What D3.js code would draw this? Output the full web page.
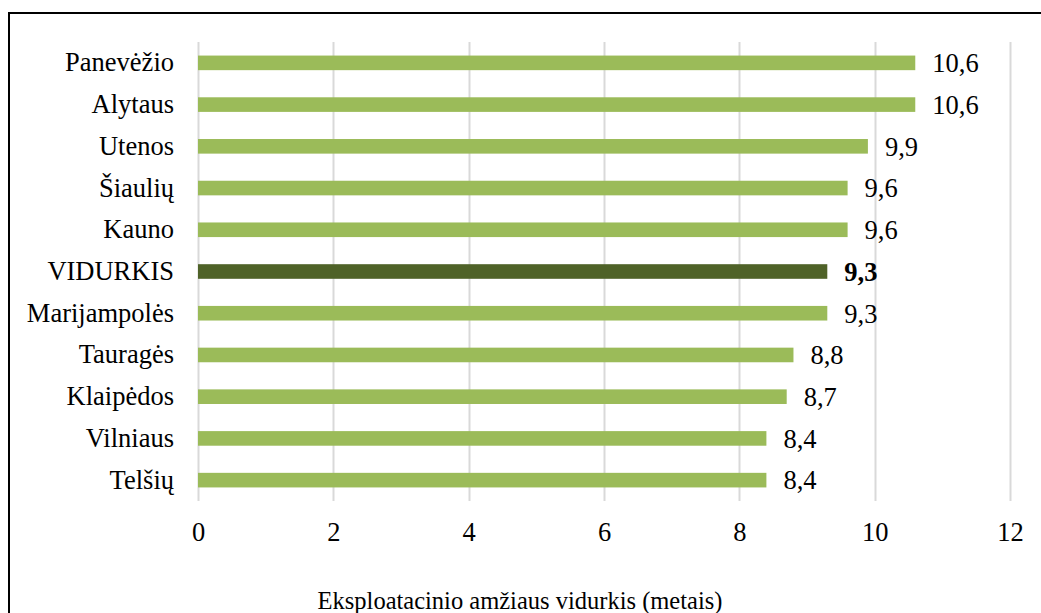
<!DOCTYPE html>
<html>
<head>
<meta charset="utf-8">
<script src="https://cdn.jsdelivr.net/npm/d3@7"></script>
<style>
  html, body { margin: 0; padding: 0; background: #fff; }
  svg { display: block; }
  text { font-family: "Liberation Serif", "Times New Roman", serif; fill: #000; }
</style>
</head>
<body>
<svg id="chart" width="1041" height="613"></svg>
<script>
// Average operating age by county (years)
const categories = ["Panevėžio", "Alytaus", "Utenos", "Šiaulių", "Kauno", "VIDURKIS",
                    "Marijampolės", "Tauragės", "Klaipėdos", "Vilniaus", "Telšių"];
const values = [10.6, 10.6, 9.9, 9.6, 9.6, 9.3, 9.3, 8.8, 8.7, 8.4, 8.4];
const tickValues = [0, 2, 4, 6, 8, 10, 12];
const highlight = "VIDURKIS";
const axisTitle = "Eksploatacinio amžiaus vidurkis (metais)";

const data = categories.map((c, i) => ({ name: c, value: values[i] }));

const svg = d3.select("#chart");
const labelSize = 26.5;
const titleSize = 24.5;
const plot = { left: 198, right: 1010, top: 42, bottom: 501 };

const x = d3.scaleLinear().domain([0, 12]).range([plot.left, plot.right]);
const y = d3.scaleBand().domain(categories).range([plot.top, plot.bottom])
  .paddingInner(0.65).paddingOuter(0.325);

// frame edges
svg.append("line").attr("x1", 9).attr("x2", 1041).attr("y1", 13).attr("y2", 13)
  .attr("stroke", "#000").attr("stroke-width", 2);
svg.append("line").attr("x1", 9).attr("x2", 9).attr("y1", 12).attr("y2", 613)
  .attr("stroke", "#000").attr("stroke-width", 2);

// vertical gridlines
svg.append("g").selectAll("line").data(tickValues).join("line")
  .attr("x1", d => Math.round(x(d)) + 0.5).attr("x2", d => Math.round(x(d)) + 0.5)
  .attr("y1", plot.top).attr("y2", plot.bottom)
  .attr("stroke", "#d9d9d9").attr("stroke-width", 2);

// x tick labels
const xAxis = d3.axisBottom(x).tickValues(tickValues).tickSize(0).tickPadding(0)
  .tickFormat(d3.format("d"));
const gx = svg.append("g").attr("transform", `translate(0, 541)`).call(xAxis);
gx.select(".domain").remove();
gx.selectAll("text").attr("font-size", labelSize).attr("font-family", "Liberation Serif")
  .attr("fill", "#000").attr("dy", 0).attr("y", 0);

// category labels
const yAxis = d3.axisLeft(y).tickSize(0).tickPadding(0);
const gy = svg.append("g").attr("transform", `translate(174, 0)`).call(yAxis);
gy.select(".domain").remove();
gy.selectAll("text").attr("font-size", labelSize).attr("font-family", "Liberation Serif")
  .attr("fill", "#000");

// bars
svg.append("g").selectAll("rect").data(data).join("rect")
  .attr("x", x(0))
  .attr("y", d => y(d.name))
  .attr("width", d => x(d.value) - x(0))
  .attr("height", y.bandwidth())
  .attr("fill", d => d.name === highlight ? "#4f6228" : "#9bbb59");

// value labels
const fmt = v => d3.format(".1f")(v).replace(".", ",");
svg.append("g").selectAll("text").data(data).join("text")
  .attr("x", d => x(d.value) + 17)
  .attr("y", d => y(d.name) + y.bandwidth() / 2)
  .attr("dy", "0.35em")
  .attr("font-size", labelSize)
  .attr("font-weight", d => d.name === highlight ? "bold" : "normal")
  .text(d => fmt(d.value));

// axis title
svg.append("text").attr("x", (318 + 722) / 2).attr("y", 609)
  .attr("text-anchor", "middle").attr("font-size", titleSize)
  .text(axisTitle);
</script>
</body>
</html>
